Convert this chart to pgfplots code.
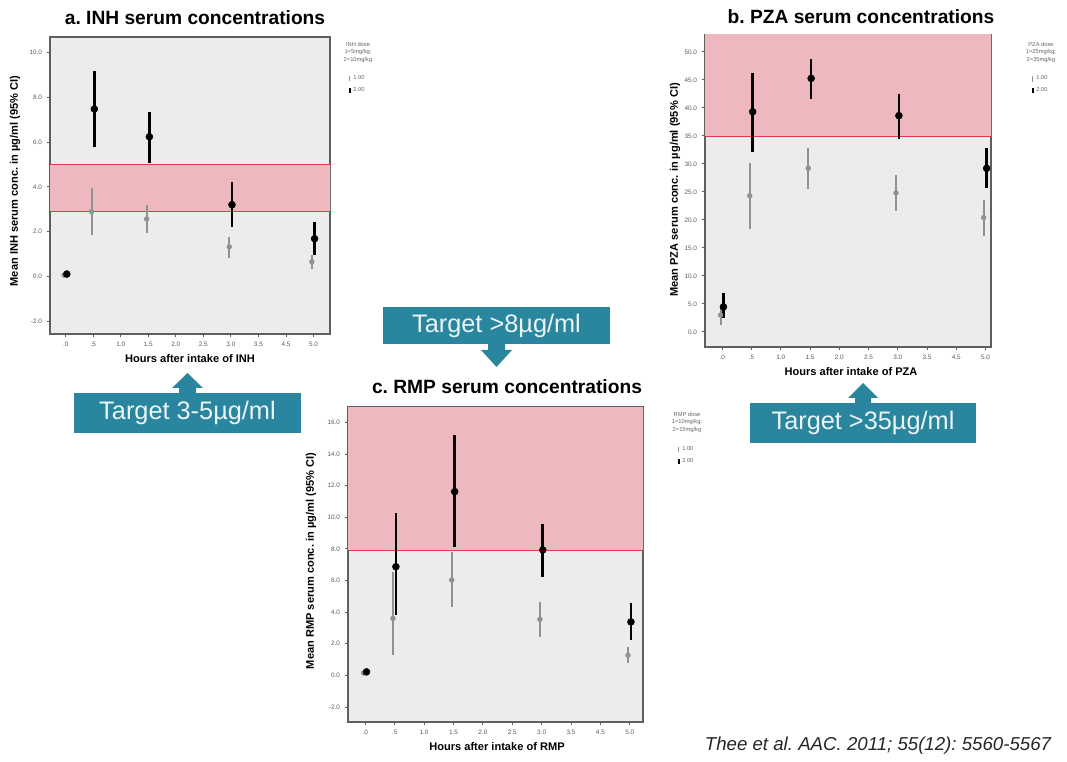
\documentclass[border=0pt]{standalone}
\usepackage{pgfplots}
\pgfplotsset{compat=1.18}
\usepackage{pgfplotstable}
\usepackage{fontspec}
\setmainfont{Liberation Sans}
\frenchspacing
\definecolor{plotbg}{RGB}{236,236,236}
\definecolor{axisgray}{RGB}{95,95,95}
\definecolor{ticktxt}{RGB}{90,90,90}
\definecolor{pinkband}{RGB}{238,184,191}
\definecolor{redline}{RGB}{222,60,70}
\definecolor{graydata}{RGB}{145,145,145}
\definecolor{calloutteal}{RGB}{42,134,158}
\definecolor{calltxt}{RGB}{235,244,247}
\definecolor{legtxt}{RGB}{100,100,100}

% INH
\pgfplotstableread{
x y ep em
0 0.05 0.05 0.05
1 2.89 1.04 1.04
3 2.56 0.63 0.64
6 1.32 0.45 0.52
9 0.65 0.30 0.34
}\inhA
\pgfplotstableread{
x y ep em
0 0.10 0.08 0.08
1 7.48 1.70 1.68
3 6.24 1.12 1.19
6 3.20 1.03 1.01
9 1.68 0.76 0.73
}\inhB
% PZA
\pgfplotstableread{
x y ep em
0 3.0 1.0 1.8
1 24.3 5.9 6.0
3 29.2 3.55 3.7
6 24.8 3.2 3.2
9 20.4 3.1 3.3
}\pzaA
\pgfplotstableread{
x y ep em
0 4.46 2.4 2.06
1 39.3 6.95 7.2
3 45.25 3.55 3.75
6 38.6 3.8 4.2
9 29.2 3.7 3.6
}\pzaB
% RMP
\pgfplotstableread{
x y ep em
0 0.15 0.10 0.10
1 3.60 2.95 2.33
3 6.03 1.79 1.73
6 3.54 1.11 1.11
9 1.27 0.53 0.52
}\rmpA
\pgfplotstableread{
x y ep em
0 0.22 0.12 0.12
1 6.87 3.42 3.07
3 11.62 3.58 3.48
6 7.93 1.65 1.73
9 3.38 1.17 1.16
}\rmpB

\pgfplotsset{
  panel/.style={
    scale only axis, clip=true,
    axis background/.style={fill=plotbg},
    axis line style={draw=axisgray, line width=0.9pt},
    xtick={0,...,9},
    xticklabels={.0,.5,1.0,1.5,2.0,2.5,3.0,3.5,4.5,5.0},
    tick align=outside, xtick pos=bottom, ytick pos=left,
    major tick length=2.5pt,
    tick style={draw=axisgray, line width=0.6pt},
    ticklabel style={font=\fontsize{4.8}{5}\selectfont, text=ticktxt},
    legend style={draw=none, fill=none, font=\fontsize{4.3}{5}\selectfont, text=legtxt, inner sep=0pt, row sep=0pt, cells={anchor=west}},
  },
  dose1/.style={only marks, mark=*, mark size=1.8pt, color=graydata,
    mark options={fill=graydata, draw=graydata},
    legend image code/.code={\draw[graydata, line width=0.8pt] (0pt,-1.9pt) -- (0pt,1.9pt);},
    error bars/y dir=both, error bars/y explicit, error bars/error mark=none,
    error bars/error bar style={line width=1.5pt, graydata}},
  dose2/.style={only marks, mark=*, mark size=2.6pt, color=black,
    mark options={fill=black, draw=black},
    legend image code/.code={\draw[black, line width=1.3pt] (0pt,-1.9pt) -- (0pt,1.9pt);},
    error bars/y dir=both, error bars/y explicit, error bars/error mark=none,
    error bars/error bar style={line width=2pt, black}},
}

\begin{document}
\begin{tikzpicture}
\useasboundingbox (0pt,0pt) rectangle (800.25pt,-571.5pt);

% ---------- a. INH ----------
\begin{axis}[panel,
  at={(37.5pt,-250.5pt)}, anchor=south west,
  width=210pt, height=222.75pt,
  xmin=-0.57, xmax=9.6, ymin=-2.58, ymax=10.7,
  ytick={-2,0,2,4,6,8,10},
  yticklabels={-2.0,0.0,2.0,4.0,6.0,8.0,10.0},
  legend style={at={(axis description cs:1.10,0.879)}, anchor=north},
]
\addplot[draw=none, fill=pinkband, forget plot] coordinates {(-1,2.9) (10,2.9) (10,5.0) (-1,5.0) (-1,2.9)};
\addplot[redline, line width=0.8pt, forget plot] coordinates {(-1,2.9) (10,2.9)};
\addplot[redline, line width=0.8pt, forget plot] coordinates {(-1,5.0) (10,5.0)};
\addplot[dose1] table[x expr=\thisrow{x}-0.06, y=y, y error plus=ep, y error minus=em] {\inhA};
\addlegendentry{1.00}
\addplot[dose2] table[x expr=\thisrow{x}+0.04, y=y, y error plus=ep, y error minus=em] {\inhB};
\addlegendentry{2.00}
\end{axis}

% ---------- b. PZA ----------
\begin{axis}[panel,
  at={(528.75pt,-260.25pt)}, anchor=south west,
  width=214.5pt, height=234pt,
  xmin=-0.59, xmax=9.19, ymin=-2.7, ymax=53.0,
  ytick={0,5,10,15,20,25,30,35,40,45,50},
  yticklabels={0.0,5.0,10.0,15.0,20.0,25.0,30.0,35.0,40.0,45.0,50.0},
  legend style={at={(axis description cs:1.175,0.878)}, anchor=north},
]
\addplot[draw=none, fill=pinkband, forget plot] coordinates {(-1,34.8) (10,34.8) (10,60) (-1,60) (-1,34.8)};
\addplot[redline, line width=0.8pt, forget plot] coordinates {(-1,34.8) (10,34.8)};
\addplot[dose1] table[x expr=\thisrow{x}-0.06, y=y, y error plus=ep, y error minus=em] {\pzaA};
\addlegendentry{1.00}
\addplot[dose2] table[x expr=\thisrow{x}+0.04, y=y, y error plus=ep, y error minus=em] {\pzaB};
\addlegendentry{2.00}
\end{axis}

% ---------- c. RMP ----------
\begin{axis}[panel,
  at={(261pt,-541.5pt)}, anchor=south west,
  width=221.25pt, height=236.25pt,
  xmin=-0.59, xmax=9.45, ymin=-2.95, ymax=16.97,
  ytick={-2,0,2,4,6,8,10,12,14,16},
  yticklabels={-2.0,0.0,2.0,4.0,6.0,8.0,10.0,12.0,14.0,16.0},
  legend style={at={(axis description cs:1.149,0.883)}, anchor=north},
]
\addplot[draw=none, fill=pinkband, forget plot] coordinates {(-1,7.9) (10,7.9) (10,20) (-1,20) (-1,7.9)};
\addplot[redline, line width=0.8pt, forget plot] coordinates {(-1,7.9) (10,7.9)};
\addplot[dose1] table[x expr=\thisrow{x}-0.06, y=y, y error plus=ep, y error minus=em] {\rmpA};
\addlegendentry{1.00}
\addplot[dose2] table[x expr=\thisrow{x}+0.04, y=y, y error plus=ep, y error minus=em] {\rmpB};
\addlegendentry{2.00}
\end{axis}

\begin{scope}[x=0.75pt, y=-0.75pt]
% titles
\node[font=\bfseries\fontsize{14.4}{16}\selectfont] at (195,18) {a. INH serum concentrations};
\node[font=\bfseries\fontsize{14.4}{16}\selectfont] at (861,17) {b. PZA serum concentrations};
\node[font=\bfseries\fontsize{14.4}{16}\selectfont] at (507,387) {c. RMP serum concentrations};
% axis labels
\node[font=\bfseries\fontsize{8.3}{9}\selectfont, rotate=90] at (15,181) {Mean INH serum conc. in µg/ml (95\% CI)};
\node[font=\bfseries\fontsize{8.3}{9}\selectfont, rotate=90] at (675,190) {Mean PZA serum conc. in µg/ml (95\% CI)};
\node[font=\bfseries\fontsize{8.3}{9}\selectfont, rotate=90] at (311,561) {Mean RMP serum conc. in µg/ml (95\% CI)};
\node[font=\bfseries\fontsize{8.3}{9}\selectfont] at (190,359) {Hours after intake of INH};
\node[font=\bfseries\fontsize{8.3}{9}\selectfont] at (851,372) {Hours after intake of PZA};
\node[font=\bfseries\fontsize{8.3}{9}\selectfont] at (497,747) {Hours after intake of RMP};
% legend titles
\node[font=\fontsize{4.3}{5.6}\selectfont, text=legtxt, align=center, anchor=north, inner sep=0pt] at (358,42) {INH dose\\1=5mg/kg;\\2=10mg/kg};
\node[font=\fontsize{4.3}{5.6}\selectfont, text=legtxt, align=center, anchor=north, inner sep=0pt] at (1041,42) {PZA dose\\1=25mg/kg;\\2=35mg/kg};
\node[font=\fontsize{4.3}{5.6}\selectfont, text=legtxt, align=center, anchor=north, inner sep=0pt] at (687,412) {RMP dose\\1=10mg/kg;\\2=15mg/kg};
% callouts
\fill[calloutteal] (74,393) rectangle (301,433);
\fill[calloutteal] (179,394) -- (179,388) -- (172,388) -- (187.5,373) -- (203,388) -- (196,388) -- (196,394) -- cycle;
\node[font=\fontsize{19}{22}\selectfont, text=calltxt] at (187.5,413) {Target 3-5µg/ml};
\fill[calloutteal] (383,307) rectangle (610,344);
\fill[calloutteal] (488,343) -- (488,350) -- (481,350) -- (496.5,367) -- (512,350) -- (505,350) -- (505,343) -- cycle;
\node[font=\fontsize{19}{22}\selectfont, text=calltxt] at (496.5,325.5) {Target >8µg/ml};
\fill[calloutteal] (750,403) rectangle (976,443);
\fill[calloutteal] (855,404) -- (855,398) -- (848,398) -- (863,383) -- (878,398) -- (871,398) -- (871,404) -- cycle;
\node[font=\fontsize{19}{22}\selectfont, text=calltxt] at (863,423) {Target >35µg/ml};
% citation
\node[font=\itshape\fontsize{14}{16}\selectfont, text=black!85] at (878,746) {Thee et al. AAC. 2011; 55(12): 5560-5567};
\end{scope}
\end{tikzpicture}
\end{document}
